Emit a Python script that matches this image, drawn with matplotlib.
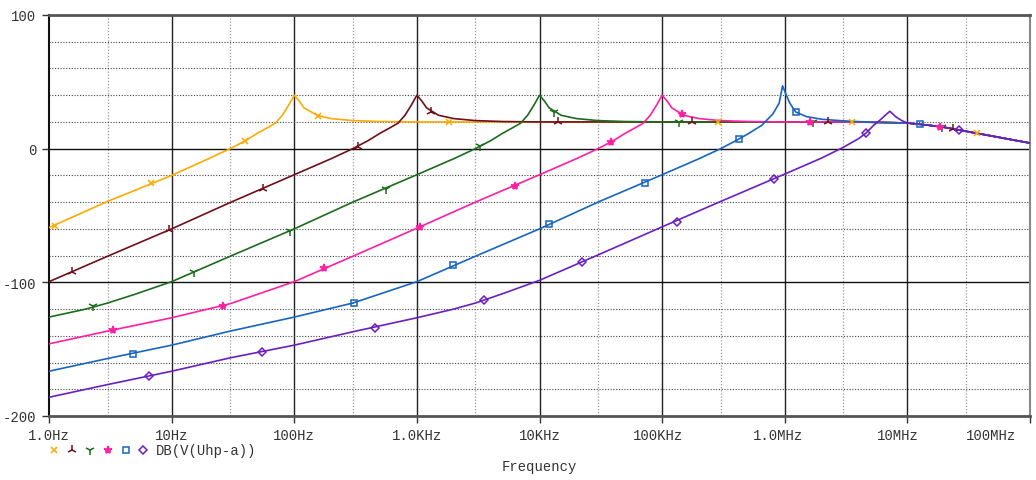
import numpy as np
import matplotlib
matplotlib.use('Agg')
import matplotlib.pyplot as plt
import matplotlib.transforms as mtransforms
from matplotlib.lines import Line2D

plt.rcParams['font.family'] = ['Liberation Mono', 'DejaVu Sans Mono']

# shared high-frequency roll-off (all traces merge here)
tail_f = [5e6, 7e6, 1e7, 1.5e7, 2e7, 3e7, 5e7, 7e7, 1e8]
tail_db = [19.8, 19.5, 19.2, 17.5, 16.0, 13.0, 9.3, 6.8, 4.2]

# trace 1 (orange, f0 = 100Hz)
f1 = [1, 3, 10, 20, 30, 40, 50, 60, 70, 80, 90, 100, 110, 120, 155, 200, 300, 500,
      1e3, 1e4, 1e5, 1e6, 3e6]
db1 = [-59, -39.5, -20, -7.5, 0, 6, 11.5, 15.5, 19, 25, 32.5, 40, 35.5, 30.5, 24.8,
       22.5, 21, 20.3, 20, 20, 20, 20, 20]
m1_f = [1.11, 6.8, 40, 155, 1.82e3, 2.88e5, 3.55e6, 3.7e7]
m1_db = [-58, -26, 6, 24.8, 20, 20, 20, 12]

# trace 2 (maroon, f0 = 1kHz)
f2 = [1, 3, 10, 30, 100, 200, 300, 400, 500, 600, 700, 800, 900, 1e3, 1.1e3, 1.2e3,
      1.5e3, 2e3, 3e3, 5e3, 1e4, 1e5, 1e6, 3e6]
db2 = [-99.5, -80.5, -60, -40.3, -19.5, -7.5, 0, 6, 11.5, 15.5, 19, 25, 32.5, 40,
       35.5, 30.5, 25, 22.5, 21, 20.3, 20, 20, 20, 20]
m2_f = [1.55, 9.5, 55.6, 331, 1.31e3, 1.41e4, 1.74e5, 2.24e6, 2.34e7]
m2_db = [-92.5, -61, -30, 1.5, 27.6, 20, 20, 20, 14.8]

# trace 3 (green, f0 = 10kHz)
f3 = [1, 2, 3, 5, 10, 30, 100, 300, 1e3, 2e3, 3e3, 4e3, 5e3, 6e3, 7e3, 8e3, 9e3,
      1e4, 1.1e4, 1.2e4, 1.5e4, 2e4, 3e4, 5e4, 1e5, 1e6, 3e6]
db3 = [-126, -120, -115.5, -109, -99.5, -80.5, -60, -40, -19.5, -7.5, 0, 6, 11.5,
       15.5, 19, 25, 32.5, 40, 35.5, 30.5, 25, 22.5, 21, 20.3, 20, 20, 20]
m3_f = [2.27, 15.1, 92.5, 557, 3.3e3, 1.32e4, 1.38e5, 1.7e6, 1.9e7]
m3_db = [-118, -92.5, -61.5, -30, 2, 27.8, 20, 20, 16.2]

# trace 4 (pink, f0 = 100kHz)
f4 = [1, 3, 10, 30, 100, 300, 1e3, 3e3, 1e4, 2e4, 3e4, 4e4, 5e4, 6e4, 7e4, 8e4,
      9e4, 1e5, 1.1e5, 1.2e5, 1.5e5, 2e5, 3e5, 5e5, 1e6, 3e6]
db4 = [-146, -136.5, -126.5, -116, -99.5, -80.5, -59.5, -40, -19.5, -7.5, 0, 6,
       11.5, 15.5, 19, 25, 32.5, 40, 35.5, 30.5, 25, 22.5, 21, 20.3, 20, 20]
m4_f = [3.3, 26.3, 176, 1.06e3, 6.3e3, 3.8e4, 1.45e5, 1.62e6, 1.86e7]
m4_db = [-136, -117.5, -89.6, -58.5, -28, 5, 25.6, 20, 16.4]

# trace 5 (blue, f0 = 1MHz)
f5 = [1, 3, 10, 30, 100, 300, 1e3, 3e3, 1e4, 3e4, 1e5, 2e5, 3e5, 4e5, 5e5, 6.5e5,
      8e5, 9e5, 9.6e5, 1.02e6, 1.1e6, 1.23e6, 1.5e6, 2e6, 3e6]
db5 = [-166.5, -157, -147, -136.5, -126, -115.5, -99.5, -80.5, -60, -40, -19.5,
       -7.5, 0, 6, 11, 17.5, 26, 34, 47, 41, 34, 27.4, 24, 22, 20.8]
m5_f = [4.8, 309, 1.96e3, 1.2e4, 7.2e4, 4.27e5, 1.23e6, 1.26e7]
m5_db = [-153.7, -115.2, -87, -56, -25.6, 7.2, 27.4, 18.3]

# trace 6 (purple, f0 ~ 7MHz)
f6 = [1, 3, 10, 30, 100, 300, 1e3, 2e3, 3e3, 5e3, 1e4, 3e4, 1e5, 3e5, 1e6, 2e6,
      3e6, 4e6, 4.6e6, 5.3e6, 6e6, 6.6e6, 7.2e6, 8e6, 9e6, 1e7]
db6 = [-186, -176.5, -166.5, -156.5, -147, -137, -126.5, -120, -115.5, -108.5,
       -98.5, -79.5, -58.5, -39.5, -19, -7, 1, 7.5, 11.7, 17.4, 21.5, 25, 28, 24,
       21, 19.2]
m6_f = [6.5, 55, 457, 3.53e3, 2.24e4, 1.32e5, 8.13e5, 4.57e6, 2.63e7]
m6_db = [-170.4, -152, -134.3, -113.4, -85, -54.5, -23, 11.7, 13.8]

series = [
    (f1, db1, m1_f, m1_db, '#ffaa00', 'x', 5, 'full'),
    (f2, db2, m2_f, m2_db, '#6e0f1a', '2', 7, 'full'),
    (f3, db3, m3_f, m3_db, '#1d6b1d', '1', 7, 'full'),
    (f4, db4, m4_f, m4_db, '#ff1fa5', '*', 6, 'full'),
    (f5, db5, m5_f, m5_db, '#1765c0', 's', 5, 'none'),
    (f6, db6, m6_f, m6_db, '#6b1fc2', 'D', 4, 'none'),
]

xticks = [1, 10, 100, 1e3, 1e4, 1e5, 1e6, 1e7, 1e8]
xlabels = ['1.0Hz', '10Hz', '100Hz', '1.0KHz', '10KHz', '100KHz',
           '1.0MHz', '10MHz', '100MHz']

fig = plt.figure(figsize=(10.36, 4.81), dpi=100)
ax = fig.add_axes([49/1036, 1-417/481, 981/1036, 401/481])
ax.set_xscale('log')
ax.set_xlim(1, 1e8)
ax.set_ylim(-200, 100)

# grid
for k in range(8):
    ax.axvline(3*10**k, color='#999999', ls=(0, (1, 1.5)), lw=0.9, zorder=1)
for k in range(1, 8):
    ax.axvline(10**k, color='#222222', lw=1.0, zorder=1)
for yv in [80, 60, 40, 20, -20, -40, -60, -80, -120, -140, -160, -180]:
    ax.axhline(yv, color='#444444', ls=(0, (1, 1.5)), lw=0.8, zorder=1)
for yv in [0, -100]:
    ax.axhline(yv, color='#111111', lw=1.0, zorder=1)

for f, db, mf, mdb, c, mk, ms, fill in series:
    if f is not f6:
        f = list(f) + tail_f
        db = list(db) + tail_db
    else:
        f = list(f) + tail_f[3:]
        db = list(db) + tail_db[3:]
    ax.plot(f, db, color=c, lw=1.2, zorder=3)
    ax.plot(mf, mdb, ls='none', marker=mk, ms=ms, color=c, mec=c,
            mfc=(c if fill == 'full' else 'none'), mew=1.1, zorder=4)

ax.spines['left'].set_color('#111111')
ax.spines['left'].set_linewidth(1.5)
ax.spines['top'].set_color('#555555')
ax.spines['top'].set_linewidth(2)
ax.spines['bottom'].set_color('#555555')
ax.spines['bottom'].set_linewidth(2)
ax.spines['right'].set_color('#888888')
ax.spines['right'].set_linewidth(1.5)

ax.set_yticks([100, 0, -100, -200])
ax.set_yticklabels(['100', '0', '-100', '-200'])
ax.set_xticks(xticks)
ax.set_xticklabels(xlabels)
ax.minorticks_off()
ax.tick_params(axis='both', direction='out', length=5, width=1, color='#333333',
               labelsize=10, labelcolor='#333333', pad=4)

# the rightmost labels sit a little left of their ticks, as in the original
shifts = [0, 0, 0, 0, 0, -4, -7, -9, -39]
for lab, dx in zip(ax.get_xticklabels(), shifts):
    if dx:
        lab.set_transform(lab.get_transform() +
                          mtransforms.ScaledTranslation(dx/100, 0, fig.dpi_scale_trans))

# legend row
ly = 1 - 451/481
for (f, db, mf, mdb, c, mk, ms, fill), x in zip(series, [54, 72, 90, 108, 126, 143]):
    fig.add_artist(Line2D([x/1036], [ly], transform=fig.transFigure, ls='none',
                          marker=mk, ms=ms, color=c, mec=c,
                          mfc=(c if fill == 'full' else 'none'), mew=1.1))
fig.text(156/1036, ly, 'DB(V(Uhp-a))', fontsize=10, color='#333333', va='center')
fig.text(502/1036, 1-467/481, 'Frequency', fontsize=10, color='#333333', va='center')

fig.savefig('out.png', dpi=100)
